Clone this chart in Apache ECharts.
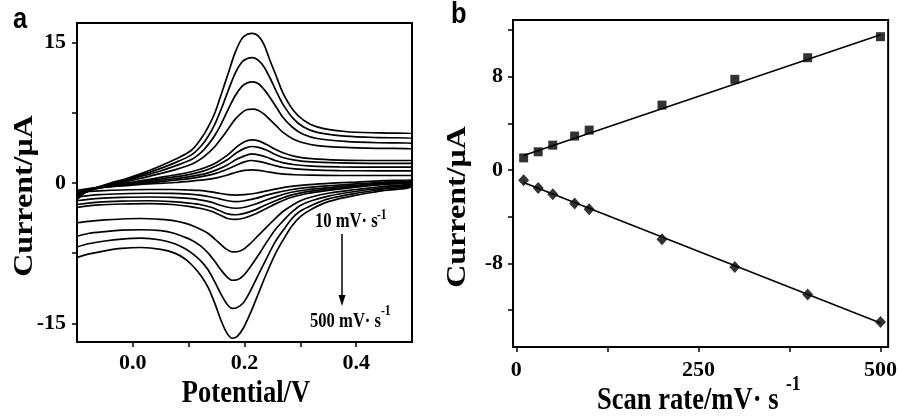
<!DOCTYPE html>
<html>
<head>
<meta charset="utf-8">
<script src="https://cdn.jsdelivr.net/npm/echarts@6/dist/echarts.min.js"></script>
<style>
  html, body { margin: 0; padding: 0; background: #fff; }
  #chart { width: 900px; height: 419px; }
</style>
</head>
<body>
<div id="chart"></div>
<script>
// ---- Panel a: cyclic voltammograms, [potential V, current uA] ----
// each scan: anodic sweep (-0.1 -> 0.5) and cathodic sweep (0.5 -> -0.1)
const up10 = [[-0.1,-0.8],[-0.085,-0.65],[-0.065,-0.5],[-0.04,-0.4],[-0.015,-0.3],[0.015,-0.15],[0.045,-0.05],[0.075,0.05],[0.105,0.2],[0.13,0.35],[0.15,0.55],[0.17,0.85],[0.185,1.15],[0.2,1.35],[0.213,1.4],[0.225,1.35],[0.24,1.2],[0.255,1.05],[0.27,0.95],[0.29,0.88],[0.32,0.83],[0.37,0.8],[0.44,0.8],[0.5,0.8]];
const down10 = [[0.5,0.4],[0.45,0.25],[0.4,0.1],[0.35,-0.05],[0.31,-0.2],[0.28,-0.4],[0.26,-0.6],[0.24,-0.85],[0.22,-1.1],[0.2,-1.25],[0.185,-1.3],[0.17,-1.25],[0.155,-1.1],[0.14,-0.95],[0.12,-0.8],[0.1,-0.75],[0.07,-0.7],[0.03,-0.7],[-0.02,-0.75],[-0.06,-0.85],[-0.1,-1.0]];

const up30 = [[-0.1,-1.0],[-0.085,-0.75],[-0.065,-0.55],[-0.04,-0.4],[-0.015,-0.25],[0.015,-0.05],[0.045,0.1],[0.075,0.3],[0.105,0.5],[0.13,0.75],[0.15,1.05],[0.17,1.5],[0.185,1.9],[0.2,2.25],[0.213,2.4],[0.225,2.3],[0.24,2.1],[0.255,1.85],[0.27,1.65],[0.29,1.5],[0.32,1.4],[0.37,1.33],[0.44,1.3],[0.5,1.3]];
const down30 = [[0.5,0.35],[0.45,0.1],[0.4,-0.1],[0.35,-0.3],[0.31,-0.5],[0.28,-0.75],[0.26,-1.0],[0.24,-1.3],[0.22,-1.65],[0.2,-1.9],[0.185,-2.0],[0.17,-1.9],[0.155,-1.7],[0.14,-1.5],[0.12,-1.3],[0.1,-1.2],[0.07,-1.12],[0.03,-1.1],[-0.02,-1.15],[-0.06,-1.25],[-0.1,-1.5]];

const up50 = [[-0.1,-1.1],[-0.085,-0.8],[-0.065,-0.55],[-0.04,-0.35],[-0.015,-0.15],[0.015,0.05],[0.045,0.25],[0.075,0.45],[0.105,0.7],[0.13,1.0],[0.15,1.4],[0.17,1.95],[0.185,2.5],[0.2,2.9],[0.213,3.1],[0.225,3.0],[0.24,2.75],[0.255,2.4],[0.27,2.15],[0.29,1.95],[0.32,1.8],[0.37,1.72],[0.44,1.7],[0.5,1.7]];
const down50 = [[0.5,0.3],[0.45,0.0],[0.4,-0.25],[0.35,-0.5],[0.31,-0.75],[0.28,-1.05],[0.26,-1.4],[0.24,-1.8],[0.22,-2.25],[0.2,-2.6],[0.185,-2.7],[0.17,-2.6],[0.155,-2.35],[0.14,-2.05],[0.12,-1.8],[0.1,-1.65],[0.07,-1.55],[0.03,-1.5],[-0.02,-1.55],[-0.06,-1.65],[-0.1,-1.9]];

const up80 = [[-0.1,-1.2],[-0.085,-0.85],[-0.065,-0.55],[-0.04,-0.3],[-0.015,-0.1],[0.015,0.15],[0.045,0.4],[0.075,0.65],[0.105,0.95],[0.13,1.35],[0.15,1.85],[0.17,2.5],[0.185,3.2],[0.2,3.7],[0.213,3.9],[0.225,3.8],[0.24,3.5],[0.255,3.05],[0.27,2.7],[0.29,2.45],[0.32,2.25],[0.37,2.15],[0.44,2.1],[0.5,2.1]];
const down80 = [[0.5,0.25],[0.45,-0.1],[0.4,-0.35],[0.35,-0.65],[0.31,-0.95],[0.28,-1.35],[0.26,-1.8],[0.24,-2.3],[0.22,-2.85],[0.2,-3.25],[0.185,-3.4],[0.17,-3.3],[0.155,-2.95],[0.14,-2.6],[0.12,-2.3],[0.1,-2.15],[0.07,-2.0],[0.03,-1.9],[-0.02,-1.95],[-0.06,-2.05],[-0.1,-2.3]];

const up100 = [[-0.1,-1.3],[-0.085,-0.9],[-0.065,-0.6],[-0.04,-0.3],[-0.015,-0.05],[0.015,0.25],[0.045,0.55],[0.075,0.85],[0.105,1.2],[0.13,1.65],[0.15,2.2],[0.17,3.0],[0.185,3.8],[0.2,4.4],[0.213,4.6],[0.225,4.5],[0.24,4.1],[0.255,3.6],[0.27,3.2],[0.29,2.85],[0.32,2.6],[0.37,2.45],[0.44,2.4],[0.5,2.4]];
const down100 = [[0.5,0.2],[0.45,-0.15],[0.4,-0.45],[0.35,-0.8],[0.31,-1.15],[0.28,-1.6],[0.26,-2.1],[0.24,-2.7],[0.22,-3.3],[0.2,-3.75],[0.185,-3.9],[0.17,-3.8],[0.155,-3.4],[0.14,-3.0],[0.12,-2.7],[0.1,-2.5],[0.07,-2.3],[0.03,-2.2],[-0.02,-2.25],[-0.06,-2.35],[-0.1,-2.6]];

const up200 = [[-0.1,-1.5],[-0.085,-1.0],[-0.065,-0.6],[-0.04,-0.2],[-0.015,0.1],[0.015,0.5],[0.045,0.95],[0.075,1.4],[0.105,2.0],[0.123,2.6],[0.135,3.2],[0.147,3.9],[0.159,4.8],[0.171,5.8],[0.183,6.8],[0.195,7.5],[0.205,7.85],[0.215,7.9],[0.225,7.75],[0.235,7.35],[0.245,6.8],[0.257,6.1],[0.269,5.4],[0.287,4.7],[0.305,4.3],[0.33,4.0],[0.38,3.8],[0.44,3.7],[0.5,3.65]];
const down200 = [[0.5,0.1],[0.45,-0.35],[0.4,-0.7],[0.35,-1.1],[0.32,-1.5],[0.3,-1.9],[0.285,-2.4],[0.27,-3.0],[0.255,-3.8],[0.24,-4.7],[0.225,-5.6],[0.21,-6.5],[0.198,-7.1],[0.187,-7.35],[0.178,-7.36],[0.168,-7.1],[0.158,-6.6],[0.147,-6.0],[0.135,-5.4],[0.123,-5.0],[0.108,-4.6],[0.093,-4.3],[0.075,-4.05],[0.05,-3.9],[0.015,-3.8],[-0.02,-3.85],[-0.05,-3.95],[-0.08,-4.1],[-0.1,-4.25]];

const up300 = [[-0.1,-1.6],[-0.085,-1.0],[-0.065,-0.55],[-0.04,-0.15],[-0.015,0.2],[0.015,0.7],[0.045,1.2],[0.075,1.8],[0.105,2.5],[0.123,3.3],[0.135,4.1],[0.147,5.1],[0.159,6.4],[0.171,7.9],[0.183,9.3],[0.195,10.3],[0.205,10.7],[0.215,10.8],[0.225,10.6],[0.235,10.0],[0.245,9.2],[0.257,8.1],[0.269,7.0],[0.287,5.9],[0.305,5.2],[0.33,4.75],[0.38,4.45],[0.44,4.3],[0.5,4.25]];
const down300 = [[0.5,0.0],[0.45,-0.5],[0.4,-0.9],[0.35,-1.4],[0.32,-1.9],[0.3,-2.4],[0.285,-3.1],[0.27,-4.0],[0.255,-5.0],[0.24,-6.3],[0.225,-7.7],[0.21,-9.0],[0.198,-9.9],[0.187,-10.35],[0.178,-10.4],[0.168,-10.0],[0.158,-9.3],[0.147,-8.4],[0.135,-7.5],[0.123,-6.8],[0.108,-6.2],[0.093,-5.8],[0.075,-5.4],[0.05,-5.1],[0.015,-5.0],[-0.02,-5.05],[-0.05,-5.2],[-0.08,-5.4],[-0.1,-5.7]];

const up400 = [[-0.1,-1.7],[-0.085,-1.0],[-0.065,-0.5],[-0.04,-0.1],[-0.015,0.3],[0.015,0.85],[0.045,1.45],[0.075,2.15],[0.105,3.0],[0.123,4.0],[0.135,5.0],[0.147,6.3],[0.159,8.0],[0.171,9.9],[0.183,11.7],[0.195,12.9],[0.205,13.3],[0.215,13.4],[0.225,13.1],[0.235,12.4],[0.245,11.3],[0.257,9.8],[0.269,8.4],[0.287,6.9],[0.305,6.0],[0.33,5.4],[0.38,5.0],[0.44,4.85],[0.5,4.8]];
const down400 = [[0.5,-0.1],[0.45,-0.65],[0.4,-1.1],[0.35,-1.7],[0.32,-2.4],[0.3,-3.0],[0.285,-3.8],[0.27,-5.0],[0.255,-6.3],[0.24,-8.0],[0.225,-9.8],[0.21,-11.6],[0.198,-12.8],[0.187,-13.3],[0.178,-13.4],[0.168,-12.9],[0.158,-11.9],[0.147,-10.6],[0.135,-9.3],[0.123,-8.4],[0.108,-7.6],[0.093,-7.0],[0.075,-6.5],[0.05,-6.1],[0.015,-5.9],[-0.02,-6.0],[-0.05,-6.2],[-0.08,-6.5],[-0.1,-6.85]];

const up500 = [[-0.1,-1.8],[-0.085,-1.0],[-0.065,-0.5],[-0.04,0.0],[-0.015,0.4],[0.015,1.0],[0.045,1.7],[0.075,2.5],[0.105,3.5],[0.123,4.8],[0.135,6.0],[0.147,7.5],[0.159,9.6],[0.171,11.75],[0.183,13.9],[0.195,15.4],[0.205,15.9],[0.215,16.0],[0.225,15.7],[0.235,14.8],[0.245,13.2],[0.257,11.4],[0.269,9.6],[0.287,7.8],[0.305,6.75],[0.33,6.0],[0.38,5.5],[0.44,5.35],[0.5,5.3]];
const down500 = [[0.5,-0.2],[0.45,-0.8],[0.4,-1.3],[0.35,-2.0],[0.32,-2.8],[0.3,-3.6],[0.285,-4.6],[0.27,-6.0],[0.255,-7.6],[0.24,-9.6],[0.225,-11.8],[0.21,-14.0],[0.198,-15.5],[0.187,-16.4],[0.178,-16.6],[0.168,-16.0],[0.158,-14.7],[0.147,-12.9],[0.135,-11.2],[0.123,-10.0],[0.108,-8.9],[0.093,-8.1],[0.075,-7.5],[0.05,-7.1],[0.015,-6.9],[-0.02,-7.0],[-0.05,-7.25],[-0.08,-7.6],[-0.1,-7.95]];

const cvScans = [
  [up10, down10], [up30, down30], [up50, down50], [up80, down80], [up100, down100],
  [up200, down200], [up300, down300], [up400, down400], [up500, down500]
];

// ---- Panel b: peak current vs scan rate ----
const scanRates = [10, 30, 50, 80, 100, 200, 300, 400, 500];
const anodicPeak = [1.05, 1.57, 2.14, 2.92, 3.43, 5.57, 7.78, 9.63, 11.43];
const cathodicPeak = [-0.86, -1.52, -2.06, -2.86, -3.34, -5.92, -8.29, -10.66, -13.01];
const anodicFit = [[10, 1.25], [500, 11.6]];
const cathodicFit = [[10, -1.05], [500, -13.1]];

// ---- Axis ticks and labels ----
const potTicks = [0, 0.1, 0.2, 0.3, 0.4];
const potLabels = [0, 0.2, 0.4];
const curATicks = [-15, -7.5, 0, 7.5, 15];
const curALabels = [-15, 0, 15];
const rateTicks = [0, 125, 250, 375, 500];
const rateLabels = [0, 250, 500];
const curBTicks = [-12, -8, -4, 0, 4, 8, 12];
const curBLabels = [-8, 0, 8];

const SERIF = '"Liberation Serif", "Times New Roman", serif';
const SANS = '"Liberation Sans", Arial, sans-serif';

const tickLabelStyle = { color: '#000', fontFamily: SERIF, fontWeight: 'bold', fontSize: 22 };
const tickStyle = { show: true, inside: false, length: 5, lineStyle: { color: '#000', width: 1.5 } };

function valueAxis(gridIndex, min, max, ticks, labels, margin, fmt) {
  return {
    type: 'value', gridIndex, min, max,
    axisLine: { show: true, onZero: false, lineStyle: { color: '#000', width: 2 } },
    splitLine: { show: false },
    axisTick: Object.assign({ customValues: ticks }, tickStyle),
    axisLabel: Object.assign({ customValues: labels, margin, formatter: fmt }, tickLabelStyle)
  };
}

const chart = echarts.init(document.getElementById('chart'), null, { renderer: 'canvas' });

const cvSeries = cvScans.map(([up, down]) => ({
  type: 'line', xAxisIndex: 0, yAxisIndex: 0,
  data: up.concat(down, [up[0]]),
  smooth: 0.3, showSymbol: false, symbol: 'none', clip: true,
  lineStyle: { color: '#000', width: 1.7 },
  silent: true, animation: false
}));

const option = {
  animation: false,
  backgroundColor: '#fff',
  grid: [
    { left: 77, top: 23, width: 335, height: 319, show: true, borderColor: '#000', borderWidth: 2, backgroundColor: 'transparent' },
    { left: 513, top: 20, width: 377, height: 327, show: true, borderColor: '#000', borderWidth: 2, backgroundColor: 'transparent' }
  ],
  xAxis: [
    valueAxis(0, -0.1, 0.5, potTicks, potLabels, 10, v => v.toFixed(1)),
    valueAxis(1, -4.6, 510.5, rateTicks, rateLabels, 12, v => String(v))
  ],
  yAxis: [
    valueAxis(0, -17, 17.1, curATicks, curALabels, 11, v => String(v)),
    valueAxis(1, -15.15, 12.86, curBTicks, curBLabels, 10, v => String(v))
  ],
  series: cvSeries.concat([
    {
      type: 'line', xAxisIndex: 1, yAxisIndex: 1, data: anodicFit,
      showSymbol: false, symbol: 'none', lineStyle: { color: '#000', width: 1.6 }, z: 2
    },
    {
      type: 'line', xAxisIndex: 1, yAxisIndex: 1, data: cathodicFit,
      showSymbol: false, symbol: 'none', lineStyle: { color: '#000', width: 1.6 }, z: 2
    },
    {
      type: 'scatter', xAxisIndex: 1, yAxisIndex: 1,
      data: scanRates.map((r, i) => [r, anodicPeak[i]]),
      symbol: 'rect', symbolSize: 9, itemStyle: { color: '#000' }, z: 3
    },
    {
      type: 'scatter', xAxisIndex: 1, yAxisIndex: 1,
      data: scanRates.map((r, i) => [r, cathodicPeak[i]]),
      symbol: 'diamond', symbolSize: [11, 12], itemStyle: { color: '#000' }, z: 3
    }
  ]),
  graphic: [
    // panel letters
    { type: 'text', x: 13, y: 20, scaleX: 0.85, style: { text: 'a', fontFamily: SANS, fontWeight: 'bold', fontSize: 30, fill: '#000', verticalAlign: 'middle' } },
    { type: 'text', x: 451, y: 15, scaleX: 0.85, style: { text: 'b', fontFamily: SANS, fontWeight: 'bold', fontSize: 30, fill: '#000', verticalAlign: 'middle' } },
    // axis titles
    { type: 'text', x: 246, y: 394, scaleX: 0.83, style: { text: 'Potential/V', fontFamily: SERIF, fontWeight: 'bold', fontSize: 32, fill: '#000', align: 'center', verticalAlign: 'middle' } },
    { type: 'text', x: 25, y: 196, rotation: Math.PI / 2, scaleY: 0.83, style: { text: 'Current/\u03bcA', fontFamily: SERIF, fontWeight: 'bold', fontSize: 32, fill: '#000', align: 'center', verticalAlign: 'middle' } },
    { type: 'text', x: 458, y: 207, rotation: Math.PI / 2, scaleY: 0.83, style: { text: 'Current/\u03bcA', fontFamily: SERIF, fontWeight: 'bold', fontSize: 32, fill: '#000', align: 'center', verticalAlign: 'middle' } },
    { type: 'text', x: 597, y: 401, scaleX: 0.83, style: { text: 'Scan rate/mV\u00b7 s', fontFamily: SERIF, fontWeight: 'bold', fontSize: 32, fill: '#000', align: 'left', verticalAlign: 'middle' } },
    { type: 'text', x: 786, y: 385, scaleX: 0.83, style: { text: '-1', fontFamily: SERIF, fontWeight: 'bold', fontSize: 21, fill: '#000', align: 'left', verticalAlign: 'middle' } },
    // scan-rate annotation with arrow
    { type: 'text', x: 315, y: 222, scaleX: 0.83, style: { text: '10 mV\u00b7 s', fontFamily: SERIF, fontWeight: 'bold', fontSize: 20, fill: '#000', align: 'left', verticalAlign: 'middle' } },
    { type: 'text', x: 377, y: 215, scaleX: 0.83, style: { text: '-1', fontFamily: SERIF, fontWeight: 'bold', fontSize: 14, fill: '#000', align: 'left', verticalAlign: 'middle' } },
    { type: 'text', x: 310, y: 322, scaleX: 0.83, style: { text: '500 mV\u00b7 s', fontFamily: SERIF, fontWeight: 'bold', fontSize: 20, fill: '#000', align: 'left', verticalAlign: 'middle' } },
    { type: 'text', x: 381, y: 311, scaleX: 0.83, style: { text: '-1', fontFamily: SERIF, fontWeight: 'bold', fontSize: 14, fill: '#000', align: 'left', verticalAlign: 'middle' } },
    { type: 'line', shape: { x1: 342, y1: 234, x2: 342, y2: 298 }, style: { stroke: '#000', lineWidth: 1.5 } },
    { type: 'polygon', shape: { points: [[338.5, 295], [345.5, 295], [342, 306]] }, style: { fill: '#000' } }
  ]
};

chart.setOption(option);
</script>
</body>
</html>
